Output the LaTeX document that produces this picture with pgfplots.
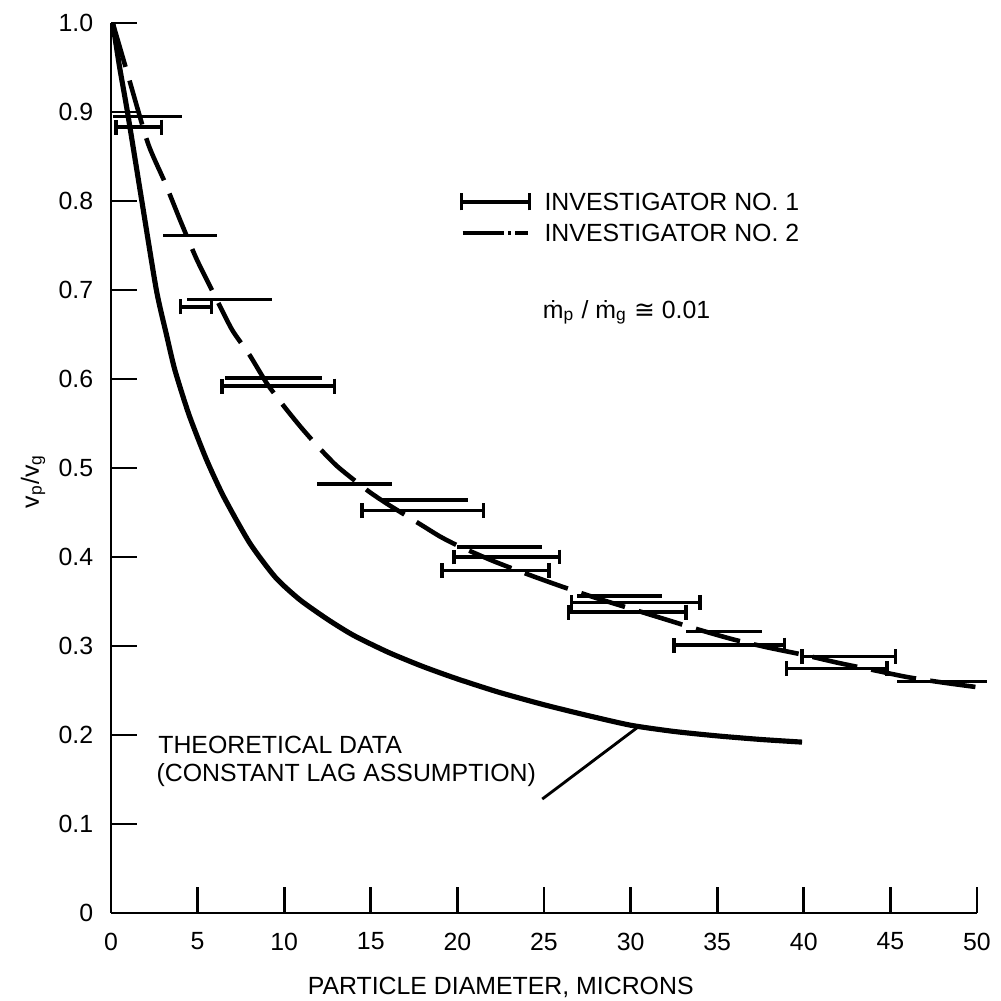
\documentclass[border=0pt]{standalone}
\usepackage{fontspec}
\setmainfont{Liberation Sans}
\newfontfamily\dejavu{DejaVu Sans}
\usepackage{pgfplots}
\usepackage{pgfplotstable}
\pgfplotsset{compat=1.18}

% investigator no. 1: bars with end caps (centre, value, half width)
\pgfplotstableread{
x y xerr
1.60 0.883 1.30
4.90 0.681 0.90
9.65 0.592 3.25
18.00 0.452 3.50
22.85 0.400 3.05
22.20 0.385 3.10
30.30 0.349 3.70
29.80 0.338 3.40
35.70 0.301 3.20
42.60 0.288 2.70
41.90 0.275 2.90
}\invone

% investigator no. 2: plain bars
\pgfplotstableread{
x y xerr
2.10 0.895 2.00
4.55 0.761 1.55
6.85 0.689 2.45
9.40 0.601 2.80
14.05 0.482 2.15
18.15 0.464 2.45
22.45 0.411 2.45
29.35 0.356 2.45
35.40 0.316 2.20
48.00 0.260 2.60
}\invtwo

\newcommand\tf{\fontsize{8.7}{10}\selectfont}

\begin{document}
\begin{tikzpicture}
\path[use as bounding box] (-38.85pt,-30.8pt) rectangle (311.5pt,319.55pt);
\begin{axis}[at={(0pt,0pt)}, anchor=south west, scale only axis,
  width=303.1pt, height=311.5pt,
  xmin=0, xmax=50, ymin=0, ymax=1,
  axis x line=bottom, axis y line=left,
  axis line style={line width=1pt, -},
  tick align=inside, major tick length=9pt,
  tick style={line width=1pt, black},
  xtick={0,5,10,15,20,25,30,35,40,45,50},
  xticklabels={0,5,10,15,20,25,30,35,40,45,50},
  ytick={0,0.1,0.2,0.3,0.4,0.5,0.6,0.7,0.8,0.9,1.0},
  yticklabels={0,0.1,0.2,0.3,0.4,0.5,0.6,0.7,0.8,0.9,1.0},
  xticklabel style={font=\tf, yshift=-3.4pt},
  yticklabel style={font=\tf, xshift=-2.7pt},
  clip=false]

% theoretical data
\addplot[black, line width=1.8pt, smooth, tension=0.4] coordinates {
(0.1,1.0)(0.5,0.95)(0.95,0.9)(1.78,0.8)(2.62,0.7)(3.2,0.65)(3.69,0.61)
(4.5,0.56)(5.5,0.51)(6.5,0.468)(8.0,0.416)(9.5,0.377)(10.9,0.352)
(12.5,0.33)(14,0.312)(16,0.293)(18,0.277)(20,0.263)(22.4,0.248)
(25,0.234)(27.5,0.222)(30,0.211)(32.5,0.204)(35,0.199)(37.5,0.195)(39.9,0.192)};

% dashed curve
\addplot[black, line width=1.6pt, dash pattern=on 16pt off 5pt, smooth, tension=0.4] coordinates {
(0.1,1.0)(1,0.94)(2.13,0.865)(3.11,0.821)(3.98,0.779)(4.96,0.734)(6.11,0.689)
(7,0.655)(8,0.627)(9,0.595)(10,0.569)(11,0.545)(12,0.523)(13,0.503)(14,0.487)
(15,0.472)(16,0.459)(17,0.447)(18,0.435)(19,0.423)(20,0.413)(22,0.396)
(24,0.381)(26,0.367)(28,0.354)(30,0.342)(32,0.330)(34,0.318)(36,0.307)
(38,0.298)(40,0.29)(42,0.281)(44,0.273)(46,0.265)(48,0.259)(50.3,0.253)};

\addplot[draw=none, mark=none,
  error bars/.cd, x dir=both, x explicit, error mark=|,
  error bar style={draw=black, solid, line width=1.2pt},
  error mark options={draw=black, solid, line width=1.2pt, mark size=2.6pt}]
  table[x=x, y=y, x error=xerr] {\invone};

\addplot[draw=none, mark=none,
  error bars/.cd, x dir=both, x explicit, error mark=none,
  error bar style={draw=black, solid, line width=1.2pt}]
  table[x=x, y=y, x error=xerr] {\invtwo};

% legend
\draw[line width=1.2pt] (axis cs:20.24,0.799) -- (axis cs:24.16,0.799);
\draw[line width=1.2pt] (axis cs:20.24,0.799) ++(0,-3pt) -- ++(0,6pt);
\draw[line width=1.2pt] (axis cs:24.16,0.799) ++(0,-3pt) -- ++(0,6pt);
\node[anchor=west, font=\tf, inner sep=0pt] at (axis cs:25.0,0.799) {INVESTIGATOR NO. 1};
\draw[line width=1.4pt] (axis cs:20.3,0.764) -- (axis cs:22.7,0.764);
\draw[line width=1.4pt] (axis cs:22.95,0.764) -- (axis cs:23.1,0.764);
\draw[line width=1.4pt] (axis cs:23.35,0.764) -- (axis cs:24.05,0.764);
\node[anchor=west, font=\tf, inner sep=0pt] at (axis cs:25.0,0.764) {INVESTIGATOR NO. 2};
\node[anchor=west, font=\tf, inner sep=0pt] at (axis cs:24.9,0.675)
  {\.m\textsubscript{p} / \.m\textsubscript{g} {\dejavu ≅} 0.01};

% theoretical label and leader
\node[anchor=west, font=\tf, inner sep=0pt] at (axis cs:2.7,0.189) {THEORETICAL DATA};
\node[anchor=west, font=\tf, inner sep=0pt] at (axis cs:2.6,0.155) {(CONSTANT LAG ASSUMPTION)};
\draw[line width=1pt] (axis cs:24.9,0.128) -- (axis cs:30.5,0.210);

% axis titles
\node[font=\tf] at (axis cs:22.5,-0.084) {PARTICLE DIAMETER, MICRONS};
\node[font=\tf, rotate=90] at (axis cs:-4.5,0.485) {v\textsubscript{p}/v\textsubscript{g}};
\end{axis}
\end{tikzpicture}
\end{document}
